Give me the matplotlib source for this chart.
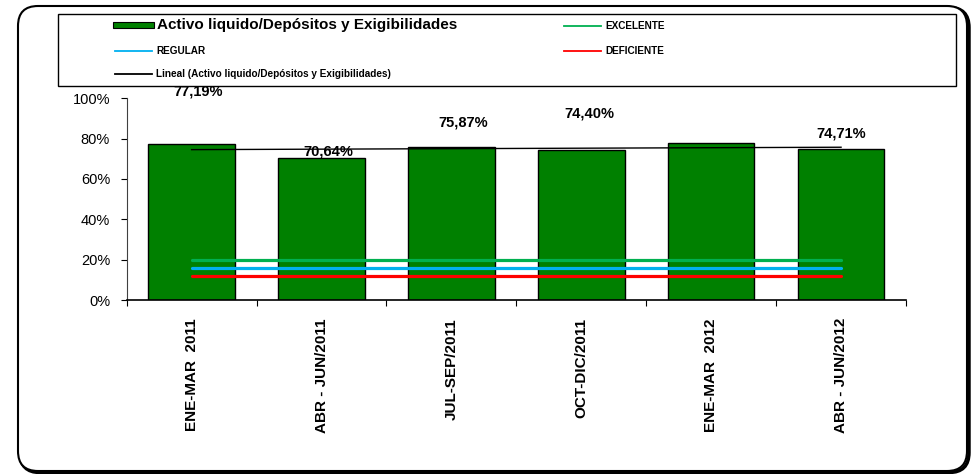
import numpy as np
import matplotlib

matplotlib.use('Agg')
import matplotlib.pyplot as plt
from matplotlib.patches import FancyBboxPatch, Rectangle
from matplotlib.lines import Line2D
from matplotlib.transforms import IdentityTransform

plt.rcParams['font.family'] = ['Liberation Sans', 'DejaVu Sans']

W, H = 976, 474

periods = ['ENE-MAR  2011', 'ABR - JUN/2011', 'JUL-SEP/2011',
           'OCT-DIC/2011', 'ENE-MAR  2012', 'ABR - JUN/2012']
ratio = [77.19, 70.64, 75.87, 74.40, 78.05, 74.71]
value_labels = ['77,19%', '70,64%', '75,87%', '74,40%', '', '74,71%']
excelente = 20.0
regular = 16.0
deficiente = 12.0
y_ticks = [0, 20, 40, 60, 80, 100]

# where the value labels sit (y in %, x offset in categories)
label_y = [103.5, 73.5, 88.1, 92.6, 0.0, 82.7]
label_dx = [0.05, 0.05, 0.09, 0.06, 0.0, 0.0]

GREEN_BAR = '#008000'
C_EXC = '#00B050'
C_REG = '#00B0F0'
C_DEF = '#FF0000'


def fx(px):
    return px / W


def fy(py):
    return 1 - py / H


fig = plt.figure(figsize=(W / 100, H / 100), dpi=100)
ax = fig.add_axes([fx(126.7), fy(300), (906 - 126.7) / W, (300 - 98.3) / H])

x = np.arange(len(periods))
ax.bar(x, ratio, width=0.667, color=GREEN_BAR, edgecolor='black', linewidth=1.0, zorder=2)

# reference levels
ax.plot([x[0], x[-1]], [excelente] * 2, color=C_EXC, lw=2.3, solid_capstyle='round', zorder=3)
ax.plot([x[0], x[-1]], [regular] * 2, color=C_REG, lw=2.3, solid_capstyle='round', zorder=3)
ax.plot([x[0], x[-1]], [deficiente] * 2, color=C_DEF, lw=2.3, solid_capstyle='round', zorder=3)

# linear trend
slope, icpt = np.polyfit(x + 1, ratio, 1)
ax.plot(x, slope * (x + 1) + icpt, color='black', lw=1.0, zorder=4)

for i, lbl in enumerate(value_labels):
    if lbl:
        ax.text(x[i] + label_dx[i], label_y[i], lbl, ha='center', va='center',
                fontsize=10.5, fontweight='bold', clip_on=False, zorder=5)

ax.set_xlim(-0.5, len(periods) - 0.5)
ax.set_ylim(0, 100)
ax.set_yticks(y_ticks)
ax.set_yticklabels([f'{v}%' for v in y_ticks], fontsize=10.5)
ax.set_xticks(x)
ax.set_xticklabels(periods, rotation=90, fontsize=11, fontweight='bold', va='top')
ax.set_xticks(np.arange(-0.5, len(periods)), minor=True)
ax.tick_params(axis='x', which='major', length=0, pad=13)
ax.tick_params(axis='x', which='minor', length=4, width=0.8, direction='out')
ax.tick_params(axis='y', length=4, width=0.8, direction='out', pad=8)
for s in ['top', 'right']:
    ax.spines[s].set_visible(False)
ax.spines['left'].set_color('#404040')
ax.spines['bottom'].set_linewidth(1.2)
ax.patch.set_alpha(0)

# outer rounded frame with shadow
shadow = FancyBboxPatch((20, 1.5), 949, 465, boxstyle='round,pad=0,rounding_size=20',
                        transform=IdentityTransform(), facecolor='none',
                        edgecolor='black', lw=2.5, zorder=-2)
frame = FancyBboxPatch((18, 3), 949, 465, boxstyle='round,pad=0,rounding_size=20',
                       transform=IdentityTransform(), facecolor='white',
                       edgecolor='black', lw=1.5, zorder=-1)
fig.add_artist(shadow)
fig.add_artist(frame)

# legend box
fig.add_artist(Rectangle((fx(58), fy(86)), (956 - 58) / W, (86 - 14) / H,
                         transform=fig.transFigure, facecolor='white',
                         edgecolor='black', lw=1.0, zorder=1))
fig.add_artist(Rectangle((fx(113), fy(28)), (154 - 113) / W, 6 / H,
                         transform=fig.transFigure, facecolor=GREEN_BAR,
                         edgecolor='black', lw=0.8, zorder=2))
fig.text(fx(157), fy(25), 'Activo liquido/Depósitos y Exigibilidades',
         fontsize=11, fontweight='bold', va='center', ha='left', zorder=2)

small_entries = [
    (115, 50.7, C_REG, 'REGULAR'),
    (115, 74.0, 'black', 'Lineal (Activo liquido/Depósitos y Exigibilidades)'),
    (564, 26.0, C_EXC, 'EXCELENTE'),
    (564, 50.7, C_DEF, 'DEFICIENTE'),
]
for x0, yy, col, txt in small_entries:
    fig.add_artist(Line2D([fx(x0), fx(x0 + 37)], [fy(yy), fy(yy)],
                          transform=fig.transFigure, color=col, lw=1.3, zorder=2))
    fig.text(fx(x0 + 41), fy(yy), txt, fontsize=7.2, fontweight='bold',
             va='center', ha='left', zorder=2)

fig.savefig('out.png', dpi=100)
